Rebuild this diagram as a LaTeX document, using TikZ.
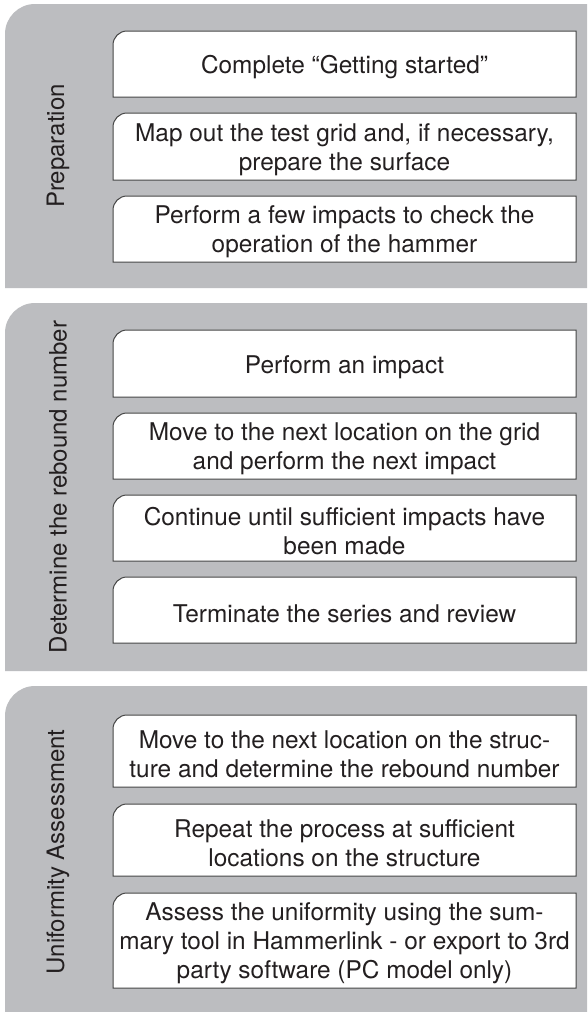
\documentclass[tikz,border=0pt]{standalone}
\usepackage{fontspec}
\setmainfont{TeX Gyre Heros}
\definecolor{panelgray}{RGB}{188,189,192}
\definecolor{boxedge}{RGB}{70,70,70}
\definecolor{ink}{RGB}{35,31,32}
\newcommand\stepshape[2]{%
  \filldraw[boxline] (113,-#2) -- (113,-#1-14) arc[start angle=180,end angle=90,radius=14pt] -- (576,-#1) -- (576,-#2) -- cycle;}
\newcommand\panelshape[2]{%
  \fill[panelgray] (587,-#2) -- (5,-#2) -- (5,-#1-30) arc[start angle=180,end angle=90,radius=30pt] -- (587,-#1) -- cycle;}
\begin{document}
\begin{tikzpicture}[x=1pt,y=1pt,
  boxline/.style={fill=white,draw=boxedge,line width=1pt},
  steptext/.style={text=ink,align=center,inner sep=0pt,font=\fontsize{24.4}{28.8}\selectfont},
  phaselabel/.style={text=ink,rotate=90,inner sep=0pt,font=\fontsize{24}{28.8}\selectfont}]
\useasboundingbox (0,0) rectangle (587,-1012);
\fill[white] (0,0) rectangle (587,-1012);
% panels
\panelshape{4}{288}
\panelshape{303}{671}
\panelshape{686}{1012}
% panel labels
\node[phaselabel] (l1) at (58,-146) {Preparation};
\node[phaselabel] (l2) at (58,-487) {Determine the rebound number};
\node[phaselabel] (l3) at (58,-852) {Uniformity Assessment};
% panel 1
\stepshape{31}{97}
\node[steptext] (p1a) at (344.5,-67.5) {Complete “Getting started”};
\stepshape{113}{180}
\node[steptext] (p1b) at (344.5,-149.5) {Map out the test grid and, if necessary,\\prepare the surface};
\stepshape{196}{262}
\node[steptext] (p1c) at (344.5,-232) {Perform a few impacts to check the\\operation of the hammer};
% panel 2
\stepshape{330}{397}
\node[steptext] (p2a) at (344.5,-367) {Perform an impact};
\stepshape{413}{479}
\node[steptext] (p2b) at (344.5,-449) {Move to the next location on the grid\\and perform the next impact};
\stepshape{495}{561}
\node[steptext] (p2c) at (344.5,-531) {Continue until sufficient impacts have\\been made};
\stepshape{577}{643}
\node[steptext] (p2d) at (344.5,-613.5) {Terminate the series and review};
% panel 3
\stepshape{715}{787}
\node[steptext] (p3a) at (344.5,-754) {Move to the next location on the struc-\\ture and determine the rebound number};
\stepshape{804}{876}
\node[steptext] (p3b) at (344.5,-843) {Repeat the process at sufficient\\locations on the structure};
\stepshape{893}{988}
\node[steptext] (p3c) at (344.5,-943.5) {Assess the uniformity using the sum-\\mary tool in Hammerlink - or export to 3rd\\party software (PC model only)};
\end{tikzpicture}
\end{document}
